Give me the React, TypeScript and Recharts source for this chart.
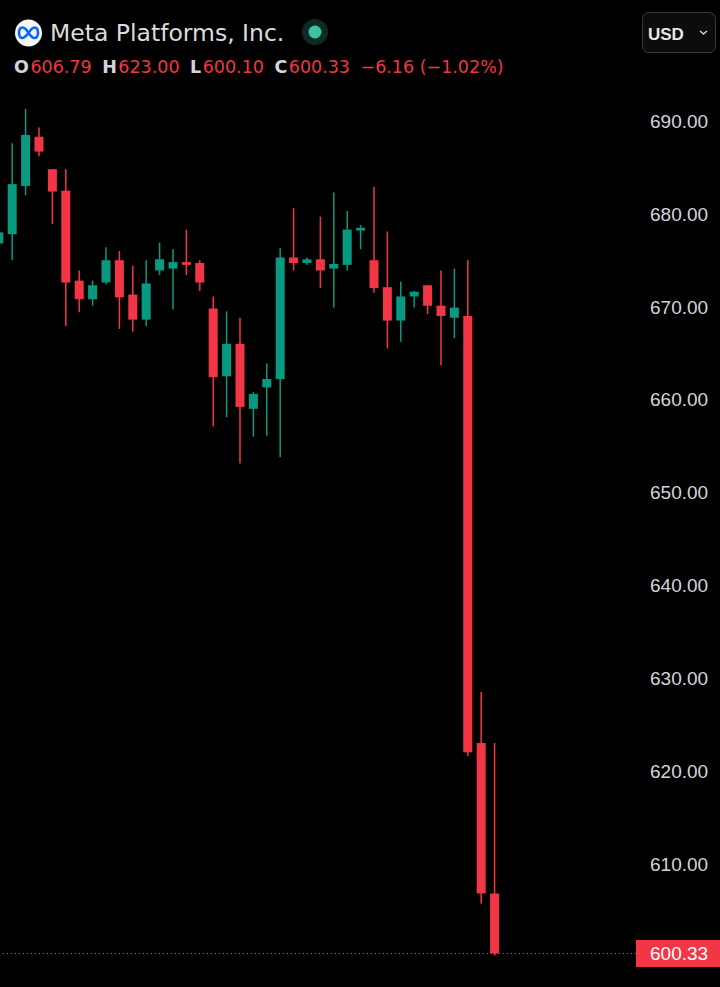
import React from 'react';
import { ComposedChart, Bar, XAxis, YAxis, ReferenceLine } from 'recharts';

// ---- data ----
const opens = [676.8, 677.8, 683.0, 688.3, 684.8, 682.5, 672.8, 670.8, 672.6, 675.0, 671.3, 668.6, 673.9, 674.1, 674.8, 674.7, 669.8, 662.5, 666.0, 659.0, 661.3, 662.2, 675.3, 674.7, 675.1, 674.1, 674.5, 678.2, 675.0, 672.1, 668.5, 671.1, 672.3, 670.1, 668.8, 669.0, 623.0, 606.79];
const highs = [678.8, 687.6, 691.3, 689.3, 684.8, 684.8, 673.9, 672.8, 676.4, 676.0, 674.4, 675.0, 676.9, 676.2, 678.3, 675.0, 671.1, 669.5, 668.8, 660.8, 663.9, 676.3, 680.6, 675.3, 679.7, 682.3, 680.3, 678.8, 682.9, 678.1, 672.7, 671.7, 672.3, 673.9, 674.1, 675.0, 628.5, 623.0];
const lows = [676.3, 675.0, 682.0, 686.2, 678.9, 667.9, 669.4, 670.1, 672.4, 667.6, 667.3, 667.9, 673.4, 669.7, 673.4, 671.7, 657.1, 658.1, 653.1, 656.0, 656.1, 653.8, 673.9, 674.5, 672.0, 669.9, 673.9, 676.2, 671.5, 665.5, 666.2, 669.9, 669.2, 663.7, 666.6, 621.6, 605.7, 600.1];
const closes = [678.0, 683.2, 688.5, 686.7, 682.4, 672.6, 670.8, 672.3, 675.0, 671.0, 668.6, 672.5, 675.1, 674.8, 674.5, 672.6, 662.4, 666.0, 659.2, 660.6, 662.2, 675.3, 674.7, 675.1, 673.9, 674.6, 678.3, 678.5, 672.0, 668.5, 671.1, 671.6, 670.1, 669.0, 669.9, 622.0, 606.8, 600.33];
const yTicks = [610, 620, 630, 640, 650, 660, 670, 680, 690];
const lastClose = 600.33;
const title = 'Meta Platforms, Inc.';
const ohlcLabels = ['O', 'H', 'L', 'C'];
const ohlcValues = ['606.79', '623.00', '600.10', '600.33'];
const changeText = '\u22126.16 (\u22121.02%)';
const currency = 'USD';

const UP = '#089981';
const DOWN = '#F23645';
const AXIS_TEXT = '#d1d4dc';

const data = opens.map((o, i) => ({
  i,
  o,
  h: highs[i],
  l: lows[i],
  c: closes[i],
  range: [lows[i], highs[i]],
}));

const Candle = (props: any) => {
  const { x, y, width, height, payload } = props;
  if (x == null || y == null || !payload) return null;
  const { o, h, l, c } = payload;
  const top0 = Math.min(y, y + height);
  const hh = Math.abs(height);
  const ppu = hh / (h - l);
  const yOf = (v: number) => top0 + (h - v) * ppu;
  const color = c >= o ? UP : DOWN;
  const bTop = yOf(Math.max(o, c));
  const bBot = yOf(Math.min(o, c));
  const cx = x + width / 2;
  return (
    <g>
      <rect x={cx - 0.75} y={top0} width={1.5} height={hh} fill={color} />
      <rect x={x} y={bTop} width={width} height={Math.max(bBot - bTop, 1.5)} fill={color} />
    </g>
  );
};

const YTick = (props: any) => {
  const { x, y, payload } = props;
  return (
    <text x={x + 14} y={y + 7} fill={AXIS_TEXT} fontSize={19} fontFamily="'Liberation Sans', Arial, sans-serif" textAnchor="start">
      {Number(payload.value).toFixed(2)}
    </text>
  );
};

const LastLabel = (props: any) => {
  const vb = props.viewBox || {};
  const x0 = vb.x + vb.width;
  const yc = vb.y;
  return (
    <g>
      <rect x={x0} y={yc - 13.5} width={84} height={27} fill={DOWN} />
      <text x={x0 + 14} y={yc + 7} fill="#ffffff" fontSize={19} fontFamily="'Liberation Sans', Arial, sans-serif">
        {lastClose.toFixed(2)}
      </text>
    </g>
  );
};

const Header = () => (
  <svg width={720} height={90} style={{ position: 'absolute', left: 0, top: 0, pointerEvents: 'none' }}>
    <circle cx={28.5} cy={33} r={13.5} fill="#f4f6fa" />
    <path
      d="M28.5,33 C26,28.5 24,27.5 22.5,27.5 C20,27.5 19,30.5 19,33 C19,36 20.5,38 22.5,38 C24.5,38 26,36 28.5,33 C31,29 32.5,27.5 34.5,27.5 C37,27.5 38,30.5 38,33 C38,36 36.5,38 34.5,38 C32.5,38 31,36.5 28.5,33 Z"
      fill="none"
      stroke="#0866ff"
      strokeWidth={2.6}
    />
    <text x={50} y={41} fill="#dcdcdc" fontSize={23.5} fontFamily="'DejaVu Sans', sans-serif">
      {title}
    </text>
    <circle cx={315} cy={32} r={13} fill="#0e2a24" />
    <circle cx={315} cy={32} r={6.5} fill="#3cc2a2" />
    <text x={14} y={73} fontSize={17.5} fontFamily="'DejaVu Sans', sans-serif">
      {ohlcLabels.map((lab, k) => (
        <React.Fragment key={lab}>
          <tspan fill={AXIS_TEXT} fontWeight="bold" dx={k === 0 ? 0 : 10.5}>{lab}</tspan>
          <tspan fill={DOWN} dx={1.5}>{ohlcValues[k]}</tspan>
        </React.Fragment>
      ))}
      <tspan fill={DOWN} dx={10.5}>{changeText}</tspan>
    </text>
    <rect x={642.5} y={12.5} width={73} height={40} rx={6} fill="#0c0c0c" stroke="#3a3a3a" />
    <text x={648} y={40} fill="#e8e8e8" fontSize={17} fontWeight="bold" fontFamily="'Liberation Sans', Arial, sans-serif">
      {currency}
    </text>
    <path d="M700,31 L703.5,34 L707,31" fill="none" stroke="#d0d0d0" strokeWidth={1.6} />
  </svg>
);

export default function App() {
  return (
    <div style={{ position: 'absolute', left: 0, top: 0, width: 720, height: 987, background: '#000', overflow: 'hidden' }}>
      <ComposedChart width={720} height={987} data={data} margin={{ top: 0, right: 0, bottom: 0, left: 0 }}>
        <XAxis type="number" dataKey="i" domain={[0.0746, 47.54]} hide allowDataOverflow />
        <YAxis
          orientation="right"
          width={84}
          domain={[596.72, 703.03]}
          ticks={yTicks}
          allowDataOverflow
          axisLine={false}
          tickLine={false}
          tickSize={0}
          tickMargin={0}
          tick={<YTick />}
          interval={0}
        />
        <ReferenceLine y={lastClose} stroke={DOWN} strokeDasharray="1.2 2.8" strokeWidth={1.2} label={<LastLabel />} ifOverflow="visible" />
        <Bar dataKey="range" barSize={9} shape={<Candle />} isAnimationActive={false} />
      </ComposedChart>
      <Header />
    </div>
  );
}
